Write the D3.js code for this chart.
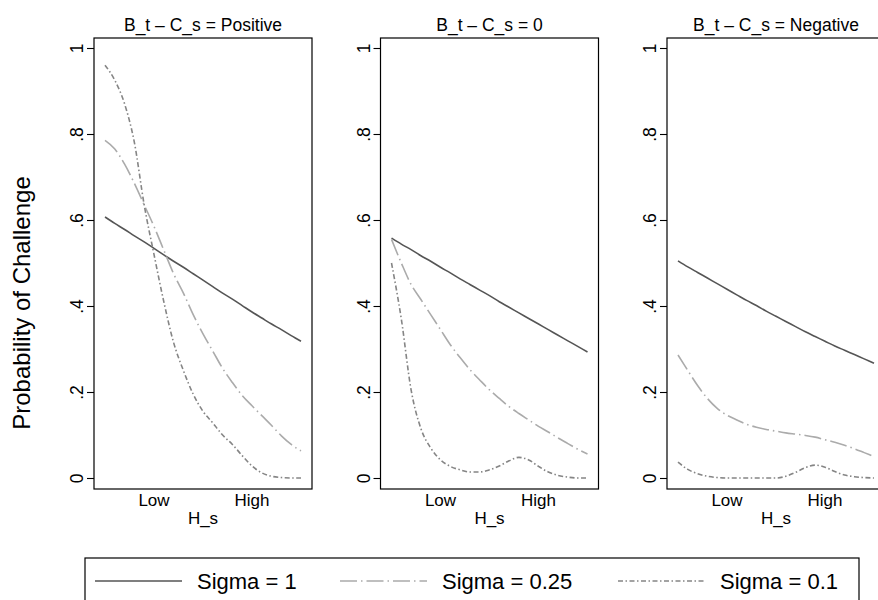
<!DOCTYPE html>
<html>
<head>
<meta charset="utf-8">
<script src="https://cdn.jsdelivr.net/npm/d3@7"></script>
<style>
  body { margin: 0; background: #fff; }
  svg { display: block; font-family: "Liberation Sans", Arial, sans-serif; }
</style>
</head>
<body>
<svg id="chart" width="878" height="600"></svg>
<script>
"use strict";

// Data
var panelTitles = ["B_t \u2013 C_s = Positive", "B_t \u2013 C_s = 0", "B_t \u2013 C_s = Negative"];
var sigmaLabels = ["Sigma = 1", "Sigma = 0.25", "Sigma = 0.1"];
var yTicks = [0, 0.2, 0.4, 0.6, 0.8, 1];
var yTickLabels = ["0", ".2", ".4", ".6", ".8", "1"];
var xTicks = [0.25, 0.75];
var xTickLabels = ["Low", "High"];

var hs = [0, 0.05, 0.1, 0.15, 0.2, 0.25, 0.3, 0.35, 0.4, 0.45, 0.5,
          0.55, 0.6, 0.65, 0.7, 0.75, 0.8, 0.85, 0.9, 0.95, 1];

// B_t - C_s positive
var positive_s1   = [0.607, 0.592, 0.578, 0.563, 0.549, 0.534, 0.519, 0.504, 0.490, 0.475, 0.460,
                     0.445, 0.430, 0.416, 0.401, 0.386, 0.372, 0.358, 0.345, 0.331, 0.318];
var positive_s025 = [0.785, 0.765, 0.730, 0.685, 0.635, 0.585, 0.530, 0.475, 0.430, 0.380, 0.335,
                     0.295, 0.255, 0.222, 0.192, 0.168, 0.145, 0.122, 0.098, 0.078, 0.063];
var positive_s01  = [0.960, 0.925, 0.870, 0.780, 0.635, 0.520, 0.410, 0.315, 0.250, 0.195, 0.155,
                     0.128, 0.100, 0.078, 0.052, 0.028, 0.012, 0.004, 0.001, 0.000, 0.000];

// B_t - C_s zero
var zero_s1   = [0.558, 0.544, 0.531, 0.517, 0.504, 0.490, 0.477, 0.463, 0.450, 0.437, 0.424,
                 0.410, 0.397, 0.384, 0.371, 0.358, 0.345, 0.332, 0.319, 0.306, 0.293];
var zero_s025 = [0.555, 0.500, 0.450, 0.415, 0.380, 0.345, 0.310, 0.280, 0.252, 0.228, 0.205,
                 0.185, 0.166, 0.150, 0.135, 0.120, 0.107, 0.093, 0.080, 0.067, 0.056];
var zero_s01  = [0.500, 0.370, 0.205, 0.115, 0.070, 0.042, 0.027, 0.019, 0.014, 0.014, 0.019,
                 0.028, 0.040, 0.048, 0.042, 0.027, 0.014, 0.006, 0.002, 0.000, 0.000];

// B_t - C_s negative
var negative_s1   = [0.505, 0.491, 0.478, 0.465, 0.452, 0.439, 0.426, 0.413, 0.401, 0.388, 0.376,
                     0.364, 0.352, 0.340, 0.329, 0.318, 0.307, 0.297, 0.287, 0.277, 0.267];
var negative_s025 = [0.286, 0.250, 0.215, 0.185, 0.162, 0.146, 0.135, 0.125, 0.118, 0.113, 0.109,
                     0.105, 0.102, 0.099, 0.095, 0.089, 0.083, 0.076, 0.068, 0.059, 0.050];
var negative_s01  = [0.037, 0.020, 0.010, 0.004, 0.001, 0.000, 0.000, 0.000, 0.000, 0.000, 0.000,
                     0.004, 0.013, 0.024, 0.030, 0.025, 0.015, 0.007, 0.003, 0.001, 0.000];

var panels = [
  [positive_s1, positive_s025, positive_s01],
  [zero_s1, zero_s025, zero_s01],
  [negative_s1, negative_s025, negative_s01]
];

// Styles for the three sigma lines
var lineStyles = [
  { stroke: "#555555", dash: null },
  { stroke: "#ababab", dash: "17,4,1.5,4" },
  { stroke: "#858585", dash: "5,2.5,1.5,2.5" }
];

// Layout
var font = "\"Liberation Sans\", Arial, sans-serif";
var plotW = 218;
var plotTop = 38;
var plotBottom = 489;

var svg = d3.select("#chart");

var panelX = d3.scaleLinear().domain([0, 2]).range([94, 667]);
var x = d3.scaleLinear().domain([0, 1]).range([11, plotW - 11]);
var y = d3.scaleLinear().domain([0, 1]).range([478, 48]);

var line = d3.line()
  .x(function(d) { return x(d[0]); })
  .y(function(d) { return y(d[1]); })
  .curve(d3.curveMonotoneX);

// Y axis title
svg.append("text")
  .attr("transform", "translate(30,303) rotate(-90)")
  .attr("text-anchor", "middle")
  .style("font-size", "24px")
  .style("fill", "#000")
  .text("Probability of Challenge");

for (let i = 0; i < panels.length; i++) {
  var g = svg.append("g").attr("transform", "translate(" + panelX(i) + ",0)");

  // plot region outline
  g.append("rect")
    .attr("x", 0)
    .attr("y", plotTop)
    .attr("width", plotW)
    .attr("height", plotBottom - plotTop)
    .attr("fill", "none")
    .attr("stroke", "#000")
    .attr("stroke-width", 1.2);

  // y axis with rotated labels
  var yAxis = g.append("g")
    .call(d3.axisLeft(y).tickValues(yTicks)
      .tickFormat(function(d, k) { return yTickLabels[k]; })
      .tickSize(7));
  yAxis.select(".domain").remove();
  yAxis.selectAll(".tick line").attr("stroke", "#000").attr("stroke-width", 1.1);
  yAxis.selectAll(".tick text")
    .attr("x", 0)
    .attr("y", -11)
    .attr("dy", 0)
    .attr("text-anchor", "middle")
    .attr("transform", "rotate(-90)")
    .style("font-family", font)
    .style("font-size", "17.5px")
    .style("fill", "#000");

  // x labels (no tick marks)
  g.selectAll(".xlab")
    .data(xTicks)
    .enter().append("text")
    .attr("class", "xlab")
    .attr("x", function(d) { return x(d); })
    .attr("y", 506)
    .attr("text-anchor", "middle")
    .style("font-size", "17px")
    .text(function(d, k) { return xTickLabels[k]; });

  g.append("text")
    .attr("x", plotW / 2)
    .attr("y", 524)
    .attr("text-anchor", "middle")
    .style("font-size", "17px")
    .text("H_s");

  // panel title
  g.append("text")
    .attr("x", plotW / 2)
    .attr("y", 31)
    .attr("text-anchor", "middle")
    .style("font-size", "17.5px")
    .text(panelTitles[i]);

  // curves
  for (let s = 0; s < 3; s++) {
    var pts = hs.map(function(h, k) { return [h, panels[i][s][k]]; });
    g.append("path")
      .datum(pts)
      .attr("d", line)
      .attr("fill", "none")
      .attr("stroke", lineStyles[s].stroke)
      .attr("stroke-width", 1.6)
      .attr("stroke-dasharray", lineStyles[s].dash);
  }
}

// Legend
var legendLineX = [95, 340, 618];
var legendY = 581;

svg.append("rect")
  .attr("x", 85)
  .attr("y", 558)
  .attr("width", 774)
  .attr("height", 50)
  .attr("fill", "none")
  .attr("stroke", "#000")
  .attr("stroke-width", 1.2);

for (let s = 0; s < sigmaLabels.length; s++) {
  svg.append("line")
    .attr("x1", legendLineX[s])
    .attr("x2", legendLineX[s] + 87)
    .attr("y1", legendY)
    .attr("y2", legendY)
    .attr("stroke", lineStyles[s].stroke)
    .attr("stroke-width", 1.6)
    .attr("stroke-dasharray", lineStyles[s].dash);

  svg.append("text")
    .attr("x", legendLineX[s] + 102)
    .attr("y", 589)
    .style("font-size", "22px")
    .text(sigmaLabels[s]);
}
</script>
</body>
</html>
